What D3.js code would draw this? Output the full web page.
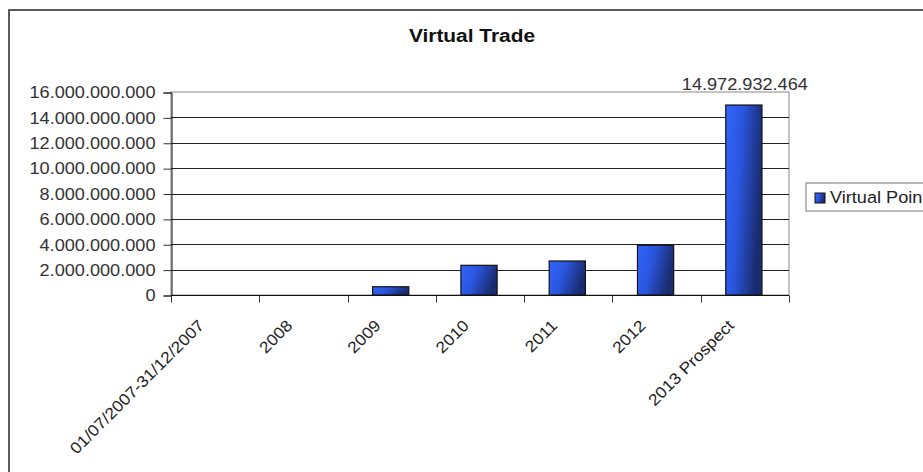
<!DOCTYPE html>
<html>
<head>
<meta charset="utf-8">
<script src="https://cdn.jsdelivr.net/npm/d3@7"></script>
<style>
  html, body { margin: 0; padding: 0; background: #fff; }
  svg { display: block; font-family: "Liberation Sans", Arial, sans-serif; }
</style>
</head>
<body>
<svg id="chart" width="923" height="472"></svg>
<script>
// Virtual points traded per period
const categories = ["01/07/2007-31/12/2007", "2008", "2009", "2010", "2011", "2012", "2013 Prospect"];
const values = [0, 0, 650000000, 2340000000, 2680000000, 3920000000, 14972932464];
const yTicks = [0, 2e9, 4e9, 6e9, 8e9, 10e9, 12e9, 14e9, 16e9];
const seriesName = "Virtual Points";
const chartTitle = "Virtual Trade";
const labelledIndex = 6;

const svg = d3.select("#chart");
const W = 923, H = 472;
const plot = { left: 171, right: 789, top: 92, bottom: 295 };
const SX = 1.1; // horizontal widening of the lettering

const locale = d3.formatLocale({ decimal: ",", thousands: ".", grouping: [3], currency: ["", ""] });
const fmt = locale.format(",d");

// widen text horizontally around its anchor point
function widen(sel) {
  sel.each(function () {
    const t = d3.select(this);
    const ax = +t.attr("x") || 0;
    const prev = t.attr("transform") || "";
    t.attr("transform", `${prev} translate(${ax},0) scale(${SX},1) translate(${-ax},0)`);
  });
}

// Outer chart frame
svg.append("rect")
  .attr("x", 9).attr("y", 10)
  .attr("width", W + 20).attr("height", H + 20)
  .attr("fill", "#fff").attr("stroke", "#4a4a4a").attr("stroke-width", 1.8);

// Title
svg.append("text")
  .attr("x", 472).attr("y", 42)
  .attr("text-anchor", "middle")
  .attr("font-size", 19).attr("font-weight", "bold")
  .attr("fill", "#111")
  .text(chartTitle)
  .call(widen);

const x = d3.scaleBand().domain(categories).range([plot.left, plot.right]).padding(0);
const y = d3.scaleLinear().domain([0, 16e9]).range([plot.bottom, plot.top]);

// Bar gradient
const defs = svg.append("defs");
const grad = defs.append("linearGradient")
  .attr("id", "barGrad")
  .attr("x1", 0).attr("y1", 0).attr("x2", 1).attr("y2", 0.3);
grad.append("stop").attr("offset", "0%").attr("stop-color", "#3366ff");
grad.append("stop").attr("offset", "45%").attr("stop-color", "#2a55dd");
grad.append("stop").attr("offset", "100%").attr("stop-color", "#1a2c70");

// Plot area border
svg.append("rect")
  .attr("x", plot.left).attr("y", plot.top)
  .attr("width", plot.right - plot.left).attr("height", plot.bottom - plot.top)
  .attr("fill", "#fff").attr("stroke", "#888").attr("stroke-width", 1);

// Horizontal gridlines
svg.append("g").selectAll("line")
  .data(yTicks.filter(d => d > 0 && d < 16e9))
  .join("line")
  .attr("x1", plot.left).attr("x2", plot.right)
  .attr("y1", d => Math.round(y(d)) + 0.5).attr("y2", d => Math.round(y(d)) + 0.5)
  .attr("stroke", "#222").attr("stroke-width", 1);

// Y axis
const yAxis = d3.axisLeft(y).tickValues(yTicks).tickFormat(fmt).tickSize(8).tickPadding(8);
const gy = svg.append("g").attr("transform", `translate(${plot.left + 0.5},0.5)`).call(yAxis);
gy.select(".domain").attr("stroke", "#111");
gy.selectAll(".tick line").attr("stroke", "#333");
gy.selectAll(".tick text").attr("font-size", 16.5).attr("fill", "#333")
  .attr("font-family", "'Liberation Sans', Arial, sans-serif")
  .call(widen);

// X axis with ticks between categories
const gx = svg.append("g").attr("transform", `translate(0,${plot.bottom + 0.5})`);
gx.append("line")
  .attr("x1", plot.left).attr("x2", plot.right)
  .attr("stroke", "#111");
const boundaries = categories.map(c => x(c)).concat([x.range()[1]]);
gx.selectAll("line.tk")
  .data(boundaries)
  .join("line").attr("class", "tk")
  .attr("x1", d => Math.round(d) + 0.5).attr("x2", d => Math.round(d) + 0.5)
  .attr("y1", 0).attr("y2", 7)
  .attr("stroke", "#333");

// Category labels, rotated
gx.selectAll("text.cat")
  .data(categories)
  .join("text").attr("class", "cat")
  .attr("transform", d => `translate(${x(d) + x.bandwidth() / 2 - 10},${31}) rotate(-45) scale(${SX},1)`)
  .attr("text-anchor", "end")
  .attr("font-size", 16).attr("fill", "#222")
  .text(d => d);

// Bars
const barW = x.bandwidth() * 0.41;
svg.append("g").selectAll("rect")
  .data(values.map((v, i) => ({ c: categories[i], v })).filter(d => d.v > 0))
  .join("rect")
  .attr("x", d => x(d.c) + (x.bandwidth() - barW) / 2 - 1)
  .attr("y", d => y(d.v))
  .attr("width", barW)
  .attr("height", d => y(0) - y(d.v))
  .attr("fill", "url(#barGrad)")
  .attr("stroke", "#111").attr("stroke-width", 1.2);

// Value label on the last bar
svg.append("text")
  .attr("x", x(categories[labelledIndex]) + x.bandwidth() / 2)
  .attr("y", y(values[labelledIndex]) - 15)
  .attr("text-anchor", "middle")
  .attr("font-size", 16.5).attr("fill", "#333")
  .text(fmt(values[labelledIndex]))
  .call(widen);

// Legend
const lg = svg.append("g").attr("transform", "translate(806,183)");
lg.append("rect").attr("width", 140).attr("height", 28)
  .attr("fill", "#fff").attr("stroke", "#777").attr("stroke-width", 1);
lg.append("rect").attr("x", 9).attr("y", 10).attr("width", 10).attr("height", 10)
  .attr("fill", "url(#barGrad)").attr("stroke", "#111").attr("stroke-width", 1);
lg.append("text").attr("x", 24).attr("y", 20)
  .attr("font-size", 16.5).attr("fill", "#222")
  .text(seriesName)
  .call(widen);
</script>
</body>
</html>
